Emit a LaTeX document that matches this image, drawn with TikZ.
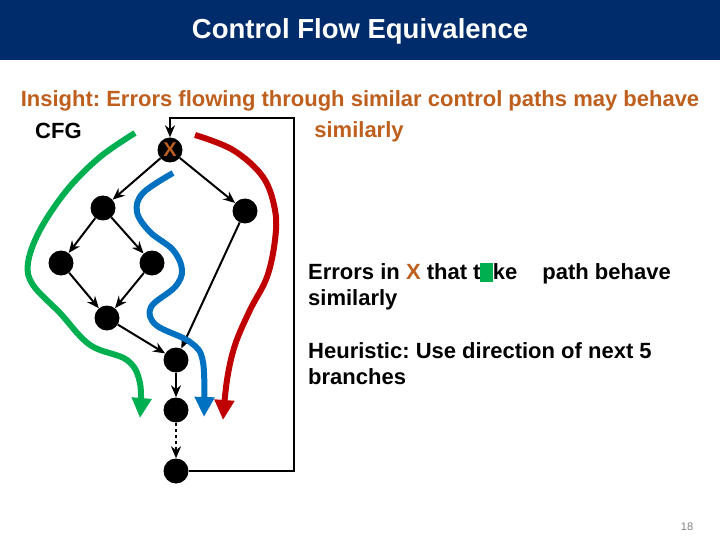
\documentclass[tikz,border=0pt]{standalone}
\usepackage{fontspec}
\setmainfont{Liberation Sans}
\usetikzlibrary{positioning, arrows.meta}
\definecolor{TitleNavy}{RGB}{0, 44, 107}
\definecolor{InsightOrange}{RGB}{190, 95, 30}
\definecolor{PathGreen}{RGB}{0, 176, 80}
\definecolor{PathBlue}{RGB}{0, 112, 192}
\definecolor{PathRed}{RGB}{192, 0, 0}
\frenchspacing

\begin{document}
\begin{tikzpicture}[x=1pt, y=-1pt,
  block/.style={circle, fill=black, minimum size=25pt, inner sep=0pt},
  flow/.style={-{Stealth[length=12pt, width=10pt]}, line width=2pt},
  errpath/.style={line width=6pt, -{Triangle[width=19pt, length=20pt]}},
  txt/.style={inner sep=0pt, font=\fontsize{22}{26}\selectfont\bfseries}]
\useasboundingbox (0,0) rectangle (720,540);
\fill[TitleNavy] (0,0) rectangle (720,60);
\node (title) [anchor=base, text=white, inner sep=0pt, font=\fontsize{27.5}{32}\selectfont\bfseries] at (360,39) {Control Flow Equivalence};
\node (insight1) [txt, anchor=base, text=InsightOrange] at (360,107) {Insight: Errors flowing through similar control paths may behave};
\node (insight2) [txt, anchor=base, text=InsightOrange] at (359,138) {similarly};
\node (cfg) [txt, anchor=base west] at (35,139) {CFG};

\node (x) [block, text=InsightOrange, font=\fontsize{20}{24}\selectfont\bfseries] at (170,150) {X};
\node (a) [block] at (103,208) {};
\node (b) [block] at (245,211) {};
\node (c) [block] at (61,263) {};
\node (d) [block] at (152,263) {};
\node (e) [block] at (107,318) {};
\node (f) [block] at (176,360) {};
\node (g) [block] at (176,410) {};
\node (h) [block] at (176,471) {};
\coordinate (loop) at (294,118);

\draw[flow] (x) -- (a);
\draw[flow] (x) -- (b);
\draw[flow] (a) -- (c);
\draw[flow] (a) -- (d);
\draw[flow] (c) -- (e);
\draw[flow] (d) -- (e);
\draw[flow] (e) -- (f);
\draw[flow] (b) -- (f);
\draw[flow] (f) -- (g);
\draw[flow, dashed] (g) -- (h);
\draw[flow] (h.east) -| (loop) -| (x.north);

\draw[errpath, PathGreen] plot[smooth, tension=0.6] coordinates {(135,133) (100,157) (67,190) (40,230) (28,263) (33,285) (60,313) (90,345) (127,360) (140,383) (140,418)};
\draw[errpath, PathBlue] plot[smooth, tension=0.6] coordinates {(173,173) (143,193) (137,212) (150,232) (173,250) (182,270) (175,287) (151,307) (156,325) (190,342) (203,362) (204,417)};
\draw[errpath, PathRed] plot[smooth, tension=0.6] coordinates {(195,135) (233,150) (263,177) (275,210) (275,240) (267,277) (250,310) (235,345) (227,380) (223,420)};

\node (errors1) [txt, anchor=base west] at (308,279) {Errors in \textcolor{InsightOrange}{X} that take\hspace{19pt} path behave};
\node (errors2) [txt, anchor=base west] at (308,305) {similarly};
\fill[PathGreen] (480,263) rectangle (493,282);
\node (heur1) [txt, anchor=base west] at (308,358) {Heuristic: Use direction of next 5};
\node (heur2) [txt, anchor=base west] at (308,384) {branches};
\node (page) [anchor=base, inner sep=0pt, text=gray, font=\fontsize{11}{13}\selectfont] at (687,530) {18};
\end{tikzpicture}
\end{document}
